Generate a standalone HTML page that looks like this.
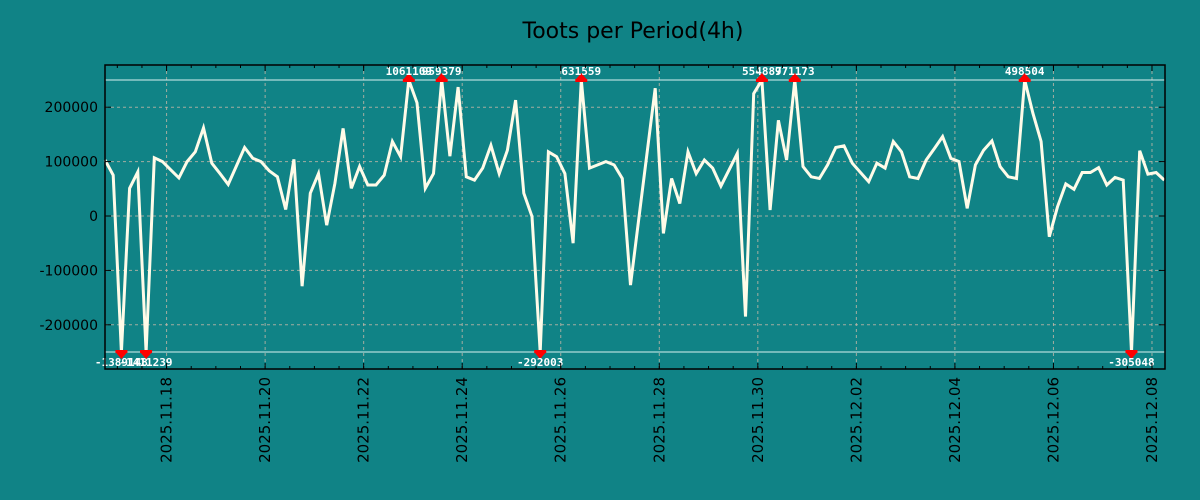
<!DOCTYPE html>
<html><head><meta charset="utf-8"><style>
html,body{margin:0;padding:0;background:#108386;}
svg{display:block;font-family:"DejaVu Sans","Liberation Sans",sans-serif;}
</style></head><body>
<svg id="chart" width="1200" height="500" viewBox="0 0 1200 500" xmlns="http://www.w3.org/2000/svg">
<rect x="0" y="0" width="1200" height="500" fill="#108386"/>
<text x="633" y="38" text-anchor="middle" font-size="22" fill="#000">Toots per Period(4h)</text>
<g id="grid"></g><g id="plot"></g><g id="axes"></g>
</svg>
<script>
const values = [103000,75000,-1389148,51000,81000,-1411239,107000,100000,85000,70000,
100000,118000,162000,97000,78000,58000,92000,126000,106000,100000,
83000,72000,12000,104000,-129000,42000,78000,-17000,60000,161000,
51000,91000,57000,57000,75000,137000,109000,1061109,208000,51000,
78000,959379,110000,237000,72000,66000,88000,130000,78000,121000,
213000,42000,-1000,-292003,118000,109000,78000,-50000,631559,88000,
94000,100000,94000,69000,-127000,-5000,115000,235000,-32000,69000,
23000,118000,78000,103000,88000,55000,85000,115000,-185000,225000,
554887,11000,176000,103000,971173,91000,72000,69000,94000,126000,
129000,97000,80000,63000,97000,88000,137000,118000,72000,69000,103000,
124000,146000,106000,100000,14000,94000,121000,138000,91000,72000,
69000,498504,189000,137000,-38000,17000,59000,49000,80000,80000,
89000,57000,71000,66000,-305048,120000,77000,80000,66000];
const yTicks = [-200000,-100000,0,100000,200000];
const xTickLabels = ["2025.11.18","2025.11.20","2025.11.22","2025.11.24","2025.11.26","2025.11.28","2025.11.30","2025.12.02","2025.12.04","2025.12.06","2025.12.08"];
const firstTickHours = 30; // hours from first point to 2025.11.18 00:00
const clipHi = 250000, clipLo = -250000;

const L=105,R=1165,T=65,B=369;
const NS="http://www.w3.org/2000/svg";
const step=(1164.3-105)/(values.length-1);
function xIdx(i){return L+i*step;}
function xHours(h){return L+(h/4)*step;}
function yv(v){return 216 - v/100000*54.4;}
function mk(tag,attrs,parent){const e=document.createElementNS(NS,tag);for(const k in attrs)e.setAttribute(k,attrs[k]);parent.appendChild(e);return e;}
const grid=document.getElementById('grid'),plot=document.getElementById('plot'),axes=document.getElementById('axes');

yTicks.forEach(v=>{
  const y=yv(v);
  const g=mk('line',{x1:L,x2:R,y1:y,y2:y,stroke:'#c8b8a8','stroke-width':1,'stroke-dasharray':'3,3',opacity:0.8},grid);
  
  
  const t1=mk('line',{x1:L,x2:L+6,y1:y,y2:y,stroke:'#000'},axes);
  
  
  const t2=mk('line',{x1:R-6,x2:R,y1:y,y2:y,stroke:'#000'},axes);
  
  
  const tx=mk('text',{x:98,y:y+5,'text-anchor':'end','font-size':14,fill:'#000'},axes);
  tx.textContent=String(v);
  
  
});
xTickLabels.forEach((lab,k)=>{
  const x=xHours(firstTickHours+k*48);
  const g=mk('line',{x1:x,x2:x,y1:T,y2:B,stroke:'#c8b8a8','stroke-width':1,'stroke-dasharray':'3,3',opacity:0.8},grid);
  
  
  const t1=mk('line',{x1:x,x2:x,y1:B-6,y2:B,stroke:'#000'},axes);
  
  
  const t2=mk('line',{x1:x,x2:x,y1:T,y2:T+6,stroke:'#000'},axes);
  
  
  const tx=mk('text',{x:0,y:0,'text-anchor':'end','font-size':15,fill:'#000',transform:`translate(${x+5},${B+8}) rotate(-90)`},axes);
  tx.textContent=lab;
  
  
});
for(let h=firstTickHours-24;h<=values.length*4;h+=12){
  const x=xHours(h); if(x<L||x>R) continue;
  const m=mk('line',{x1:x,x2:x,y1:B-3,y2:B,stroke:'#000'},axes);
  
  
  const m2=mk('line',{x1:x,x2:x,y1:T,y2:T+3,stroke:'#000'},axes);
  
  
}
[clipHi,clipLo].forEach(v=>{
  const c=mk('line',{x1:L,x2:R,y1:yv(v),y2:yv(v),stroke:'#d8f2f0','stroke-width':1},grid);
  
  
});
const pts=values.map((v,i)=>xIdx(i).toFixed(1)+','+yv(Math.max(clipLo,Math.min(clipHi,v))).toFixed(1)).join(' ');
const pl=mk('polyline',{points:pts,fill:'none',stroke:'#fffbe8','stroke-width':3,'stroke-linejoin':'miter'},plot);


values.forEach((v,i)=>{
  if(v<=clipHi&&v>=clipLo) return;
  const x=xIdx(i),hi=v>clipHi,y=yv(hi?clipHi:clipLo);
  const tri=hi?`${x-6},${y} ${x+6},${y} ${x},${y-7}`:`${x-6},${y} ${x+6},${y} ${x},${y+7}`;
  const p=mk('polygon',{points:tri,fill:'#ff0000'},plot);
  
  
  const b=mk('rect',{x:x-6,y:hi?y-1:y-2,width:12,height:3,fill:'#ff0000'},plot);
  
  
  const t=mk('text',{x:x,y:hi?y-5:y+14,'text-anchor':'middle','font-size':11,'font-weight':'bold','font-family':'"DejaVu Sans Mono","Liberation Mono",monospace',fill:'#fff'},plot);
  t.textContent=String(v);
  
  
});
const fr=mk('rect',{x:L,y:T,width:R-L,height:B-T,fill:'none',stroke:'#000','stroke-width':1.5},axes);


</script>
</body></html>
